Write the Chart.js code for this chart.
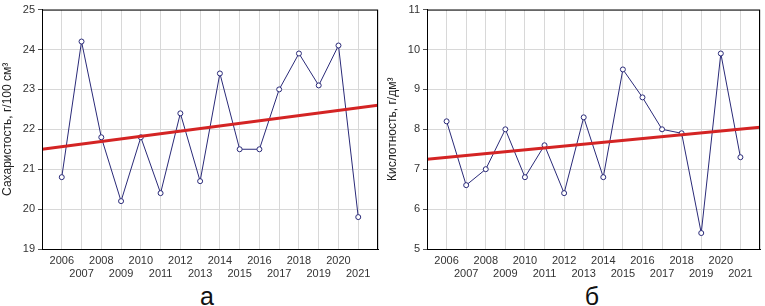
<!DOCTYPE html>
<html lang="ru">
<head>
<meta charset="UTF-8">
<title>Сахаристость и кислотность</title>
<script src="https://cdn.jsdelivr.net/npm/chart.js"></script>
<style>
  body { margin: 0; background: #fff; font-family: "Liberation Sans", Arial, sans-serif; }
  .panel { position: absolute; top: 0; width: 385px; height: 280px; }
  .cap { position: absolute; top: 282px; font-size: 25px; color: #111; text-align: center; width: 40px; }
</style>
</head>
<body>
<div class="panel" style="left:0"><canvas id="sugar"></canvas></div>
<div class="panel" style="left:385px;width:380px"><canvas id="acid"></canvas></div>
<div class="cap" style="left:187px">а</div>
<div class="cap" style="left:572px">б</div>
<script>
// годы наблюдений
const years = [2006, 2007, 2008, 2009, 2010, 2011, 2012, 2013, 2014, 2015, 2016, 2017, 2018, 2019, 2020, 2021];
// сахаристость, г/100 см3
const sugar = [20.8, 24.2, 21.8, 20.2, 21.8, 20.4, 22.4, 20.7, 23.4, 21.5, 21.5, 23.0, 23.9, 23.1, 24.1, 19.8];
// кислотность, г/дм3
const acid = [8.2, 6.6, 7.0, 8.0, 6.8, 7.6, 6.4, 8.3, 6.8, 9.5, 8.8, 8.0, 7.9, 5.4, 9.9, 7.3];
// линии тренда (концы по краям оси X)
const trendYears = [2005, 2022];
const sugarTrend = [21.5, 22.6];
const acidTrend = [7.25, 8.05];

const frame = {
  id: 'frame',
  afterDraw(chart) {
    const a = chart.chartArea, ctx = chart.ctx;
    ctx.save();
    ctx.strokeStyle = '#000';
    ctx.lineWidth = 1;
    ctx.strokeRect(a.left + 0.5, a.top + 0.5, a.right - a.left - 1, a.bottom - a.top);
    ctx.restore();
  }
};

function makeChart(id, values, trend, yMin, yMax, title, padRight) {
  const pts = years.map((y, i) => ({ x: y, y: values[i] }));
  const tr = trendYears.map((y, i) => ({ x: y, y: trend[i] }));
  return new Chart(document.getElementById(id), {
    type: 'scatter',
    data: {
      datasets: [
        {
          data: tr,
          showLine: true,
          borderColor: '#d42424',
          borderWidth: 3,
          pointRadius: 0,
          order: 1
        },
        {
          data: pts,
          showLine: true,
          borderColor: '#2a2a78',
          borderWidth: 1,
          pointRadius: 2.5,
          pointBackgroundColor: '#fff',
          pointBorderColor: '#2a2a78',
          pointBorderWidth: 1,
          order: 2
        }
      ]
    },
    options: {
      responsive: true,
      maintainAspectRatio: false,
      animation: false,
      layout: { padding: { top: 8, right: padRight, bottom: 0, left: 0 } },
      plugins: { legend: { display: false }, tooltip: { enabled: false } },
      scales: {
        x: {
          type: 'linear',
          min: 2005,
          max: 2022,
          grid: { color: '#d8d8d8', tickLength: 4, tickColor: 'rgba(0,0,0,0)' },
          border: { color: '#000' },
          ticks: {
            stepSize: 1,
            autoSkip: false,
            maxRotation: 0,
            padding: 1,
            color: '#333',
            font: { family: 'Liberation Sans', size: 11, lineHeight: 1.2 },
            callback: v => (v === 2005 || v === 2022) ? ['', ''] :
              (v % 2 === 0 ? [String(v), ''] : ['', String(v)])
          },
          afterFit: s => { s.height = 31; }
        },
        y: {
          min: yMin,
          max: yMax,
          grid: { color: '#d8d8d8', tickLength: 4, tickColor: '#555' },
          border: { color: '#000' },
          ticks: {
            stepSize: 1,
            padding: 3,
            color: '#333',
            font: { family: 'Liberation Sans', size: 11 }
          },
          title: {
            display: true,
            text: title,
            color: '#222',
            padding: { top: 0, bottom: 2 },
            font: { family: 'Liberation Sans', size: 12 }
          },
          afterFit: s => { s.width = 42; }
        }
      }
    },
    plugins: [frame]
  });
}

makeChart('sugar', sugar, sugarTrend, 19, 25, 'Сахаристость, г/100 см³', 7);
makeChart('acid', acid, acidTrend, 5, 11, 'Кислотность, г/дм³', 5);
</script>
</body>
</html>
